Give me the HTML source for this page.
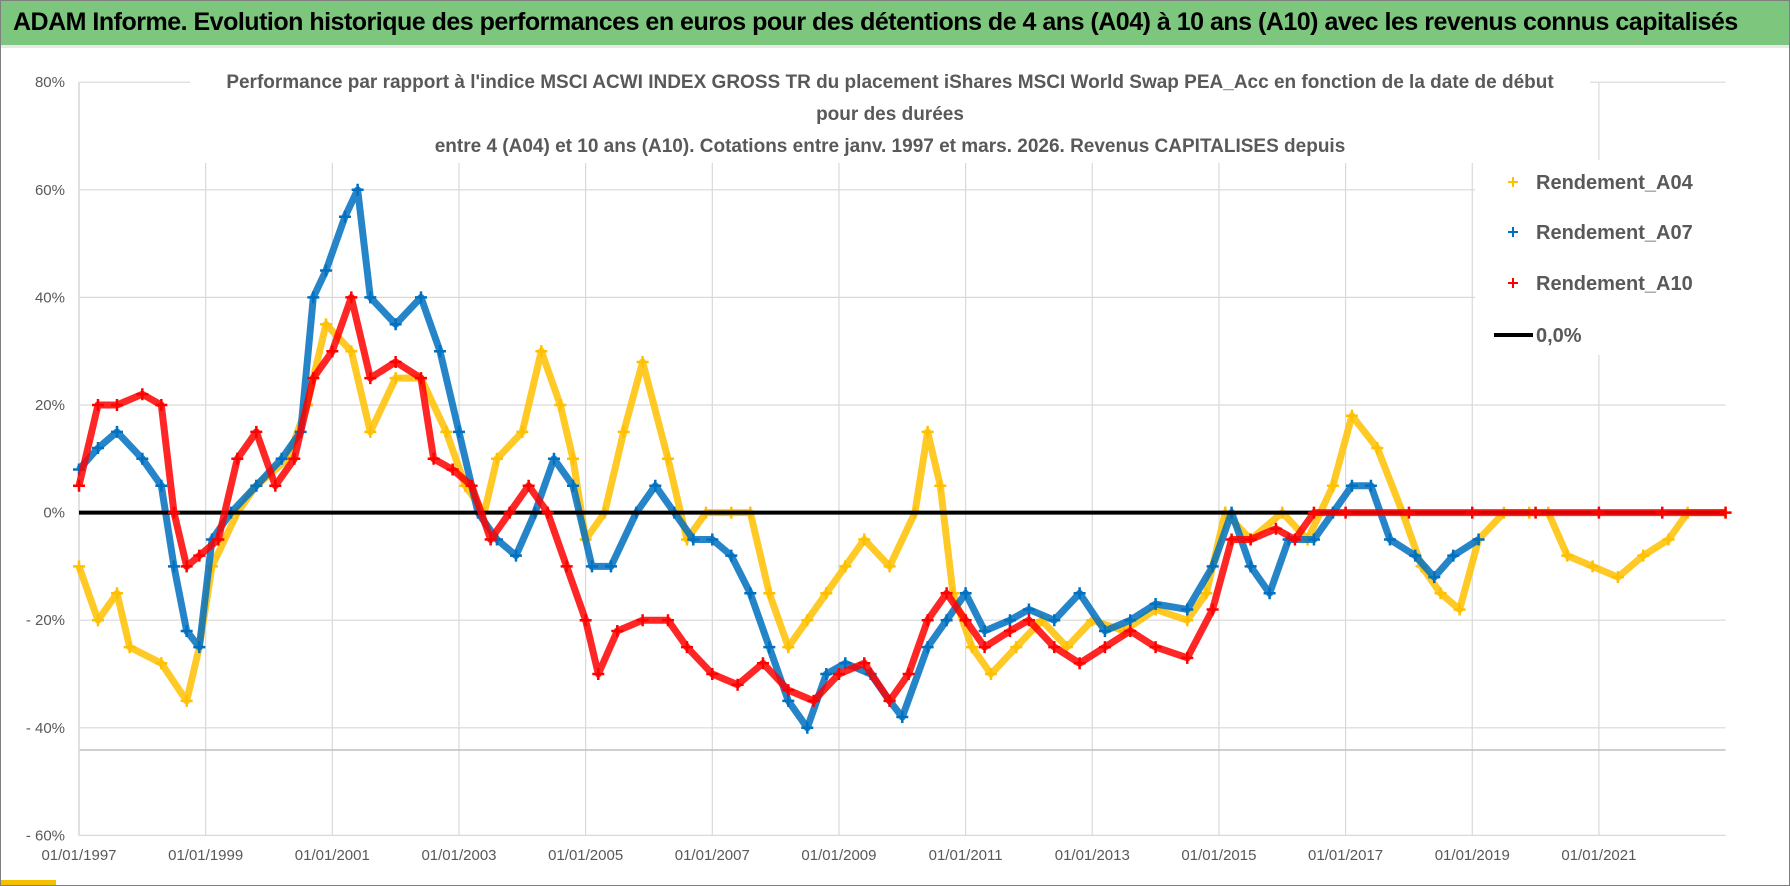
<!DOCTYPE html>
<html><head><meta charset="utf-8">
<style>
html,body{margin:0;padding:0;background:#fff;}
body{width:1790px;height:886px;overflow:hidden;position:relative;font-family:"Liberation Sans",sans-serif;}
#frame{position:absolute;left:0;top:0;width:1788px;height:884px;border:1px solid #7f7f7f;}
#header{position:absolute;left:1px;top:1px;width:1788px;height:44px;background:#7dc67d;border-bottom:3px solid #e8e8e8;}
#header span{position:absolute;left:12px;top:7px;font-size:25px;font-weight:bold;color:#000;white-space:nowrap;letter-spacing:-0.5px;}
</style></head><body>
<div id="frame"></div>
<div id="header"><span>ADAM Informe. Evolution historique des performances en euros pour des détentions de 4 ans (A04) à 10 ans (A10) avec les revenus connus capitalisés</span></div>
<div style="position:absolute;left:1px;bottom:1px;width:55px;height:5px;background:#f5c000"></div>
<svg id="chart" width="1790" height="886" style="position:absolute;left:0;top:0"></svg>
<script>
const yTicks=[80,60,40,20,0,-20,-40,-60];
const xTickYears=[1997,1999,2001,2003,2005,2007,2009,2011,2013,2015,2017,2019,2021];
const a04Years=[1997.0,1997.3,1997.6,1997.8,1998.3,1998.7,1998.9,1999.1,1999.5,1999.8,2000.3,2000.6,2000.9,2001.3,2001.6,2002.0,2002.4,2002.8,2003.1,2003.4,2003.6,2004.0,2004.3,2004.6,2004.8,2005.0,2005.3,2005.6,2005.9,2006.3,2006.6,2006.9,2007.3,2007.6,2007.9,2008.2,2008.5,2008.8,2009.1,2009.4,2009.8,2010.2,2010.4,2010.6,2010.8,2011.1,2011.4,2011.8,2012.2,2012.6,2013.0,2013.5,2014.0,2014.5,2014.8,2015.1,2015.5,2016.0,2016.4,2016.8,2017.1,2017.5,2017.9,2018.2,2018.5,2018.8,2019.1,2019.5,2019.9,2020.2,2020.5,2020.9,2021.3,2021.7,2022.1,2022.4,2023.0];
const a04Values=[-10,-20,-15,-25,-28,-35,-25,-10,0,5,10,20,35,30,15,25,25,15,5,0,10,15,30,20,10,-5,0,15,28,10,-5,0,0,0,-15,-25,-20,-15,-10,-5,-10,0,15,5,-15,-25,-30,-25,-20,-25,-20,-22,-18,-20,-15,0,-5,0,-5,5,18,12,0,-10,-15,-18,-5,0,0,0,-8,-10,-12,-8,-5,0,0];
const a07Years=[1997.0,1997.3,1997.6,1998.0,1998.3,1998.5,1998.7,1998.9,1999.1,1999.4,1999.8,2000.2,2000.5,2000.7,2000.9,2001.2,2001.4,2001.6,2002.0,2002.4,2002.7,2003.0,2003.3,2003.6,2003.9,2004.2,2004.5,2004.8,2005.1,2005.4,2005.8,2006.1,2006.4,2006.7,2007.0,2007.3,2007.6,2007.9,2008.2,2008.5,2008.8,2009.1,2009.5,2009.8,2010.0,2010.4,2010.7,2011.0,2011.3,2011.7,2012.0,2012.4,2012.8,2013.2,2013.6,2014.0,2014.5,2014.9,2015.2,2015.5,2015.8,2016.1,2016.5,2016.8,2017.1,2017.4,2017.7,2018.1,2018.4,2018.7,2019.1];
const a07Values=[8,12,15,10,5,-10,-22,-25,-5,0,5,10,15,40,45,55,60,40,35,40,30,15,0,-5,-8,0,10,5,-10,-10,0,5,0,-5,-5,-8,-15,-25,-35,-40,-30,-28,-30,-35,-38,-25,-20,-15,-22,-20,-18,-20,-15,-22,-20,-17,-18,-10,0,-10,-15,-5,-5,0,5,5,-5,-8,-12,-8,-5];
const a10Years=[1997.0,1997.3,1997.6,1998.0,1998.3,1998.5,1998.7,1998.9,1999.2,1999.5,1999.8,2000.1,2000.4,2000.7,2001.0,2001.3,2001.6,2002.0,2002.4,2002.6,2002.9,2003.2,2003.5,2003.8,2004.1,2004.4,2004.7,2005.0,2005.2,2005.5,2005.9,2006.3,2006.6,2007.0,2007.4,2007.8,2008.2,2008.6,2009.0,2009.4,2009.8,2010.1,2010.4,2010.7,2011.0,2011.3,2011.7,2012.0,2012.4,2012.8,2013.2,2013.6,2014.0,2014.5,2014.9,2015.2,2015.5,2015.9,2016.2,2016.5,2017.0,2018.0,2019.0,2020.0,2021.0,2022.0,2023.0];
const a10Values=[5,20,20,22,20,0,-10,-8,-5,10,15,5,10,25,30,40,25,28,25,10,8,5,-5,0,5,0,-10,-20,-30,-22,-20,-20,-25,-30,-32,-28,-33,-35,-30,-28,-35,-30,-20,-15,-20,-25,-22,-20,-25,-28,-25,-22,-25,-27,-18,-5,-5,-3,-5,0,0,0,0,0,0,0,0];
const zeroLine=[0,0];
const zeroYears=[1997,2023];

const NS='http://www.w3.org/2000/svg';
const svg=document.getElementById('chart');
const X0=79,PX_PER_YEAR=63.33,Y0=512.6,PX_PER_PCT=5.38;
function xs(y){return X0+(y-1997)*PX_PER_YEAR;}
function ys(v){return Y0-v*PX_PER_PCT;}
function mk(tag,attrs){const e=document.createElementNS(NS,tag);for(const k in attrs)e.setAttribute(k,attrs[k]);svg.appendChild(e);return e;}

xTickYears.forEach(yr=>{
  const l=mk('line',{x1:xs(yr),x2:xs(yr),y1:ys(80),y2:ys(-60),stroke:'#d9d9d9','stroke-width':1.2});
  
  
  const t=mk('text',{x:xs(yr),y:860,'text-anchor':'middle','font-size':15,fill:'#595959'});
  t.textContent='01/01/'+yr;
  
  
});
yTicks.forEach(v=>{
  const l=mk('line',{x1:X0,x2:xs(2023),y1:ys(v),y2:ys(v),stroke:'#d9d9d9','stroke-width':1.2});
  
  
  const t=mk('text',{x:65,y:ys(v)+5,'text-anchor':'end','font-size':15,fill:'#595959'});
  t.textContent=(v<0?'- '+(-v):v)+'%';
  
  
});
const extra=mk('line',{x1:X0,x2:xs(2023),y1:750,y2:750,stroke:'#bfbfbf','stroke-width':1.5});


const yax=mk('line',{x1:X0,x2:X0,y1:ys(80),y2:ys(-60),stroke:'#d9d9d9','stroke-width':1.5});



const titleLines=["Performance par rapport à l'indice MSCI ACWI INDEX GROSS TR  du placement iShares MSCI World Swap PEA_Acc en fonction de la date de début","pour des durées","entre 4 (A04) et 10 ans (A10). Cotations entre janv. 1997 et mars. 2026. Revenus CAPITALISES depuis"];
const titleY=[88,120,152];
const rect=mk('rect',{x:190,y:68,width:1400,height:95,fill:'#fff'});


titleLines.forEach((s,i)=>{
  const t=mk('text',{x:890,y:titleY[i],'text-anchor':'middle','font-size':19,'font-weight':'bold',fill:'#595959'});
  t.textContent=s;
  
  
});

function series(years,vals,color,name){
  const g=mk('g',{});
  
  
  const pts=years.map((y,i)=>xs(y)+','+ys(vals[i])).join(' ');
  const pl=document.createElementNS(NS,'polyline');
  pl.setAttribute('points',pts);pl.setAttribute('fill','none');pl.setAttribute('stroke',color);
  pl.setAttribute('stroke-width',7);pl.setAttribute('stroke-linejoin','round');pl.setAttribute('stroke-opacity','0.85');
  
  
  g.appendChild(pl);
  years.forEach((y,i)=>{
    const cx=xs(y),cy=ys(vals[i]);
    const p=document.createElementNS(NS,'path');
    p.setAttribute('d',`M${cx-6},${cy}H${cx+6}M${cx},${cy-6}V${cy+6}`);
    p.setAttribute('stroke',color);p.setAttribute('stroke-width',2.5);
    
    
    g.appendChild(p);
  });
}
series(a04Years,a04Values,'#ffc000','series-a04');
series(a07Years,a07Values,'#0070c0','series-a07');
const zl=mk('line',{x1:xs(zeroYears[0]),x2:xs(zeroYears[1]),y1:ys(zeroLine[0]),y2:ys(zeroLine[1]),stroke:'#000','stroke-width':4});


series(a10Years,a10Values,'#ff0000','series-a10');

const lb=mk('rect',{x:1475,y:160,width:290,height:195,fill:'#fff'});


const legNames=['Rendement_A04','Rendement_A07','Rendement_A10','0,0%'];
const legColors=['#ffc000','#0070c0','#ff0000','#000'];
const legY=[182,232,283,335];
legNames.forEach((n,i)=>{
  if(i<3){
    const p=mk('path',{d:`M${1508},${legY[i]}H${1518}M${1513},${legY[i]-5}V${legY[i]+5}`,stroke:legColors[i],'stroke-width':2});
    
    
  } else {
    const p=mk('line',{x1:1494,x2:1533,y1:legY[i],y2:legY[i],stroke:'#000','stroke-width':4});
    
    
  }
  const t=mk('text',{x:1536,y:legY[i]+7,'font-size':20,'font-weight':'bold',fill:'#595959'});
  t.textContent=n;
  
  
});
</script>
</body></html>
